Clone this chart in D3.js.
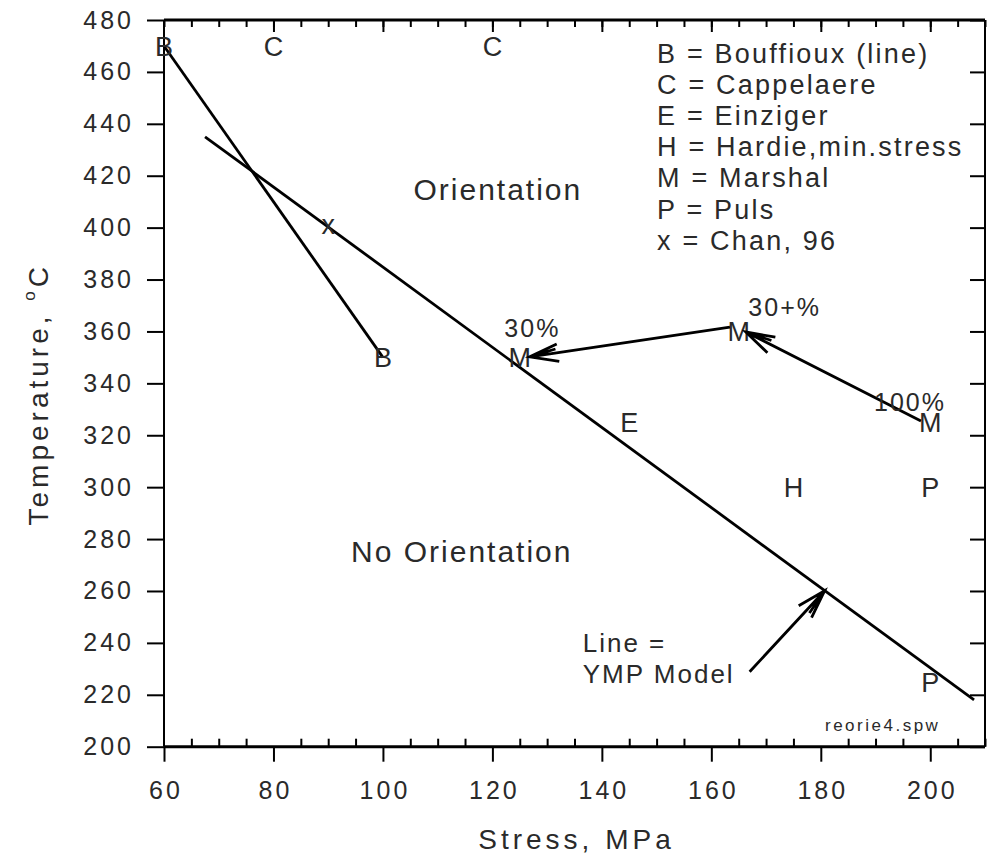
<!DOCTYPE html>
<html>
<head>
<meta charset="utf-8">
<script src="https://cdn.jsdelivr.net/npm/d3@7"></script>
<style>
  body { margin: 0; background: #fff; }
  text { font-family: "Liberation Sans", Arial, sans-serif; fill: #2a2a2a; }
</style>
</head>
<body>
<div id="chart"></div>
<script>
/* TEMPERATURE vs STRESS, reorientation */

var stressTicks = [60, 80, 100, 120, 140, 160, 180, 200];
var tempTicks = [200, 220, 240, 260, 280, 300, 320, 340, 360, 380, 400, 420, 440, 460, 480];

var bouffiouxLine = [[60, 470], [100, 350]];
var ympLine = [[67.5, 435], [208, 218]];

var markerLabels = ["B", "B", "C", "C", "x", "M", "M", "M", "E", "H", "P", "P"];
var markerStress = [60, 100, 80, 120, 90, 125, 165, 200, 145, 175, 200, 200];
var markerTemp   = [470, 350, 470, 470, 400, 350, 360, 325, 325, 300, 300, 225];

// arrows: [fromStress, fromTemp, toStress, toTemp]
var arrows = [
  [198.3, 325.5, 166.3, 359.8],
  [163.4, 361.7, 126.8, 350.2],
  [167.0, 228.9, 180.7, 260.1]
];

var pctLabels = ["30%", "30+%", "100%"];
var pctStress = [127.3, 173.4, 196.3];
var pctTemp   = [357.8, 365.9, 329.3];

var legendItems = [
  "B = Bouffioux (line)",
  "C = Cappelaere",
  "E = Einziger",
  "H = Hardie,min.stress",
  "M = Marshal",
  "P = Puls",
  "x = Chan, 96"
];

var w = 993, h = 858;
var padL = 164, padR = 985, padT = 20, padB = 746.7;

var svg = d3.select("#chart").append("svg")
            .attr("width", w)
            .attr("height", h);

var x = d3.scaleLinear().domain([60, 210]).range([padL, padR]);
var y = d3.scaleLinear().domain([200, 480]).range([padB, padT]);

var minorStress = d3.range(60, 210.1, 5);

function plainAxis(g){
  g.select(".domain").remove();
  g.selectAll(".tick line").attr("stroke", "#000").attr("stroke-width", 2);
}

// bottom: major ticks outside with labels, minor ticks inside
svg.append("g")
   .attr("transform", "translate(0," + padB + ")")
   .call(d3.axisBottom(x).tickValues(stressTicks).tickSize(15).tickPadding(20))
   .call(plainAxis)
   .selectAll("text")
   .attr("font-size", 25)
   .attr("letter-spacing", 3)
   .attr("dx", 1.5);

svg.append("g")
   .attr("transform", "translate(0," + padB + ")")
   .call(d3.axisTop(x).tickValues(minorStress.filter(function(d){ return d % 20 != 0; })).tickSize(8).tickFormat(""))
   .call(plainAxis);

// top: ticks inside, longer on the 20s
svg.append("g")
   .attr("transform", "translate(0," + padT + ")")
   .call(d3.axisBottom(x).tickValues(minorStress).tickSize(7).tickFormat(""))
   .call(plainAxis);
svg.append("g")
   .attr("transform", "translate(0," + padT + ")")
   .call(d3.axisBottom(x).tickValues(stressTicks.slice(1)).tickSize(12).tickFormat(""))
   .call(plainAxis);

// left: outside ticks with labels
svg.append("g")
   .attr("transform", "translate(" + padL + ",0)")
   .call(d3.axisLeft(y).tickValues(tempTicks).tickSize(17).tickPadding(13))
   .call(plainAxis)
   .selectAll("text")
   .attr("font-size", 25)
   .attr("letter-spacing", 3);

// right: inside ticks
svg.append("g")
   .attr("transform", "translate(" + padR + ",0)")
   .call(d3.axisRight(y).tickValues(tempTicks).tickSize(-15).tickFormat(""))
   .call(plainAxis);

// frame
svg.append("line").attr("x1", padL).attr("x2", padR).attr("y1", padT).attr("y2", padT)
   .attr("stroke", "#000").attr("stroke-width", 3);
svg.append("line").attr("x1", padL).attr("x2", padR).attr("y1", padB).attr("y2", padB)
   .attr("stroke", "#000").attr("stroke-width", 3);
svg.append("line").attr("x1", padL).attr("x2", padL).attr("y1", padT).attr("y2", padB)
   .attr("stroke", "#000").attr("stroke-width", 2);
svg.append("line").attr("x1", padR).attr("x2", padR).attr("y1", padT).attr("y2", padB)
   .attr("stroke", "#000").attr("stroke-width", 2);

// axis titles
svg.append("text")
   .attr("x", (padL + padR) / 2 + 2)
   .attr("y", 849)
   .attr("text-anchor", "middle")
   .attr("font-size", 28)
   .attr("letter-spacing", 4)
   .text("Stress, MPa");

var yt = svg.append("text")
   .attr("transform", "translate(48,263) rotate(-90)")
   .attr("text-anchor", "end")
   .attr("font-size", 28)
   .attr("letter-spacing", 4);
yt.append("tspan").text("Temperature, ");
yt.append("tspan").attr("font-size", 17).attr("dy", -13).text("o");
yt.append("tspan").attr("dy", 13).text("C");

// lines
var line = d3.line().x(function(d){ return x(d[0]); }).y(function(d){ return y(d[1]); });

svg.append("path").attr("d", line(bouffiouxLine))
   .attr("fill", "none").attr("stroke", "#000").attr("stroke-width", 2.8);
svg.append("path").attr("d", line(ympLine))
   .attr("fill", "none").attr("stroke", "#000").attr("stroke-width", 2.8);

// markers as letters
svg.selectAll("text.marker")
   .data(markerLabels)
   .enter().append("text")
   .attr("class", "marker")
   .attr("x", function(d, i){ return x(markerStress[i]); })
   .attr("y", function(d, i){ return y(markerTemp[i]); })
   .attr("dy", function(d){ return d == "x" ? "0.25em" : "0.36em"; })
   .attr("text-anchor", "middle")
   .attr("font-size", 27)
   .text(function(d){ return d; });

// arrows
arrows.forEach(function(a){
  var x1 = x(a[0]), y1 = y(a[1]), x2 = x(a[2]), y2 = y(a[3]);
  var ang = Math.atan2(y1 - y2, x1 - x2);
  var len = 30, spread = 17 * Math.PI / 180;
  var p = d3.path();
  p.moveTo(x1, y1); p.lineTo(x2, y2);
  p.moveTo(x2 + len * Math.cos(ang - spread), y2 + len * Math.sin(ang - spread));
  p.lineTo(x2, y2);
  p.lineTo(x2 + len * Math.cos(ang + spread), y2 + len * Math.sin(ang + spread));
  p.moveTo(x2 + len * 0.9 * Math.cos(ang - spread * 0.5), y2 + len * 0.9 * Math.sin(ang - spread * 0.5));
  p.lineTo(x2, y2);
  svg.append("path").attr("d", p.toString())
     .attr("fill", "none").attr("stroke", "#000").attr("stroke-width", 2.8);
});

// percent labels
svg.selectAll("text.pct")
   .data(pctLabels)
   .enter().append("text")
   .attr("class", "pct")
   .attr("x", function(d, i){ return x(pctStress[i]); })
   .attr("y", function(d, i){ return y(pctTemp[i]); })
   .attr("text-anchor", "middle")
   .attr("font-size", 25)
   .attr("letter-spacing", 2)
   .text(function(d){ return d; });

// region labels
svg.append("text").attr("x", x(121)).attr("y", y(410.6))
   .attr("text-anchor", "middle").attr("font-size", 30).attr("letter-spacing", 2)
   .text("Orientation");
svg.append("text").attr("x", x(114.4)).attr("y", y(271.1))
   .attr("text-anchor", "middle").attr("font-size", 30).attr("letter-spacing", 2)
   .text("No Orientation");

svg.append("text").attr("x", x(136.5)).attr("y", y(236.5))
   .attr("font-size", 26).attr("letter-spacing", 2).text("Line =");
svg.append("text").attr("x", x(136.5)).attr("y", y(224.5))
   .attr("font-size", 26).attr("letter-spacing", 2).text("YMP Model");

// legend
svg.append("g")
   .attr("transform", "translate(657,63)")
   .selectAll("text")
   .data(legendItems)
   .enter().append("text")
   .attr("y", function(d, i){ return i * 31.1; })
   .attr("font-size", 27)
   .attr("letter-spacing", 2.2)
   .text(function(d){ return d; });

svg.append("text").attr("x", 825).attr("y", 731)
   .attr("font-size", 17).attr("letter-spacing", 2.5)
   .text("reorie4.spw");
</script>
</body>
</html>
